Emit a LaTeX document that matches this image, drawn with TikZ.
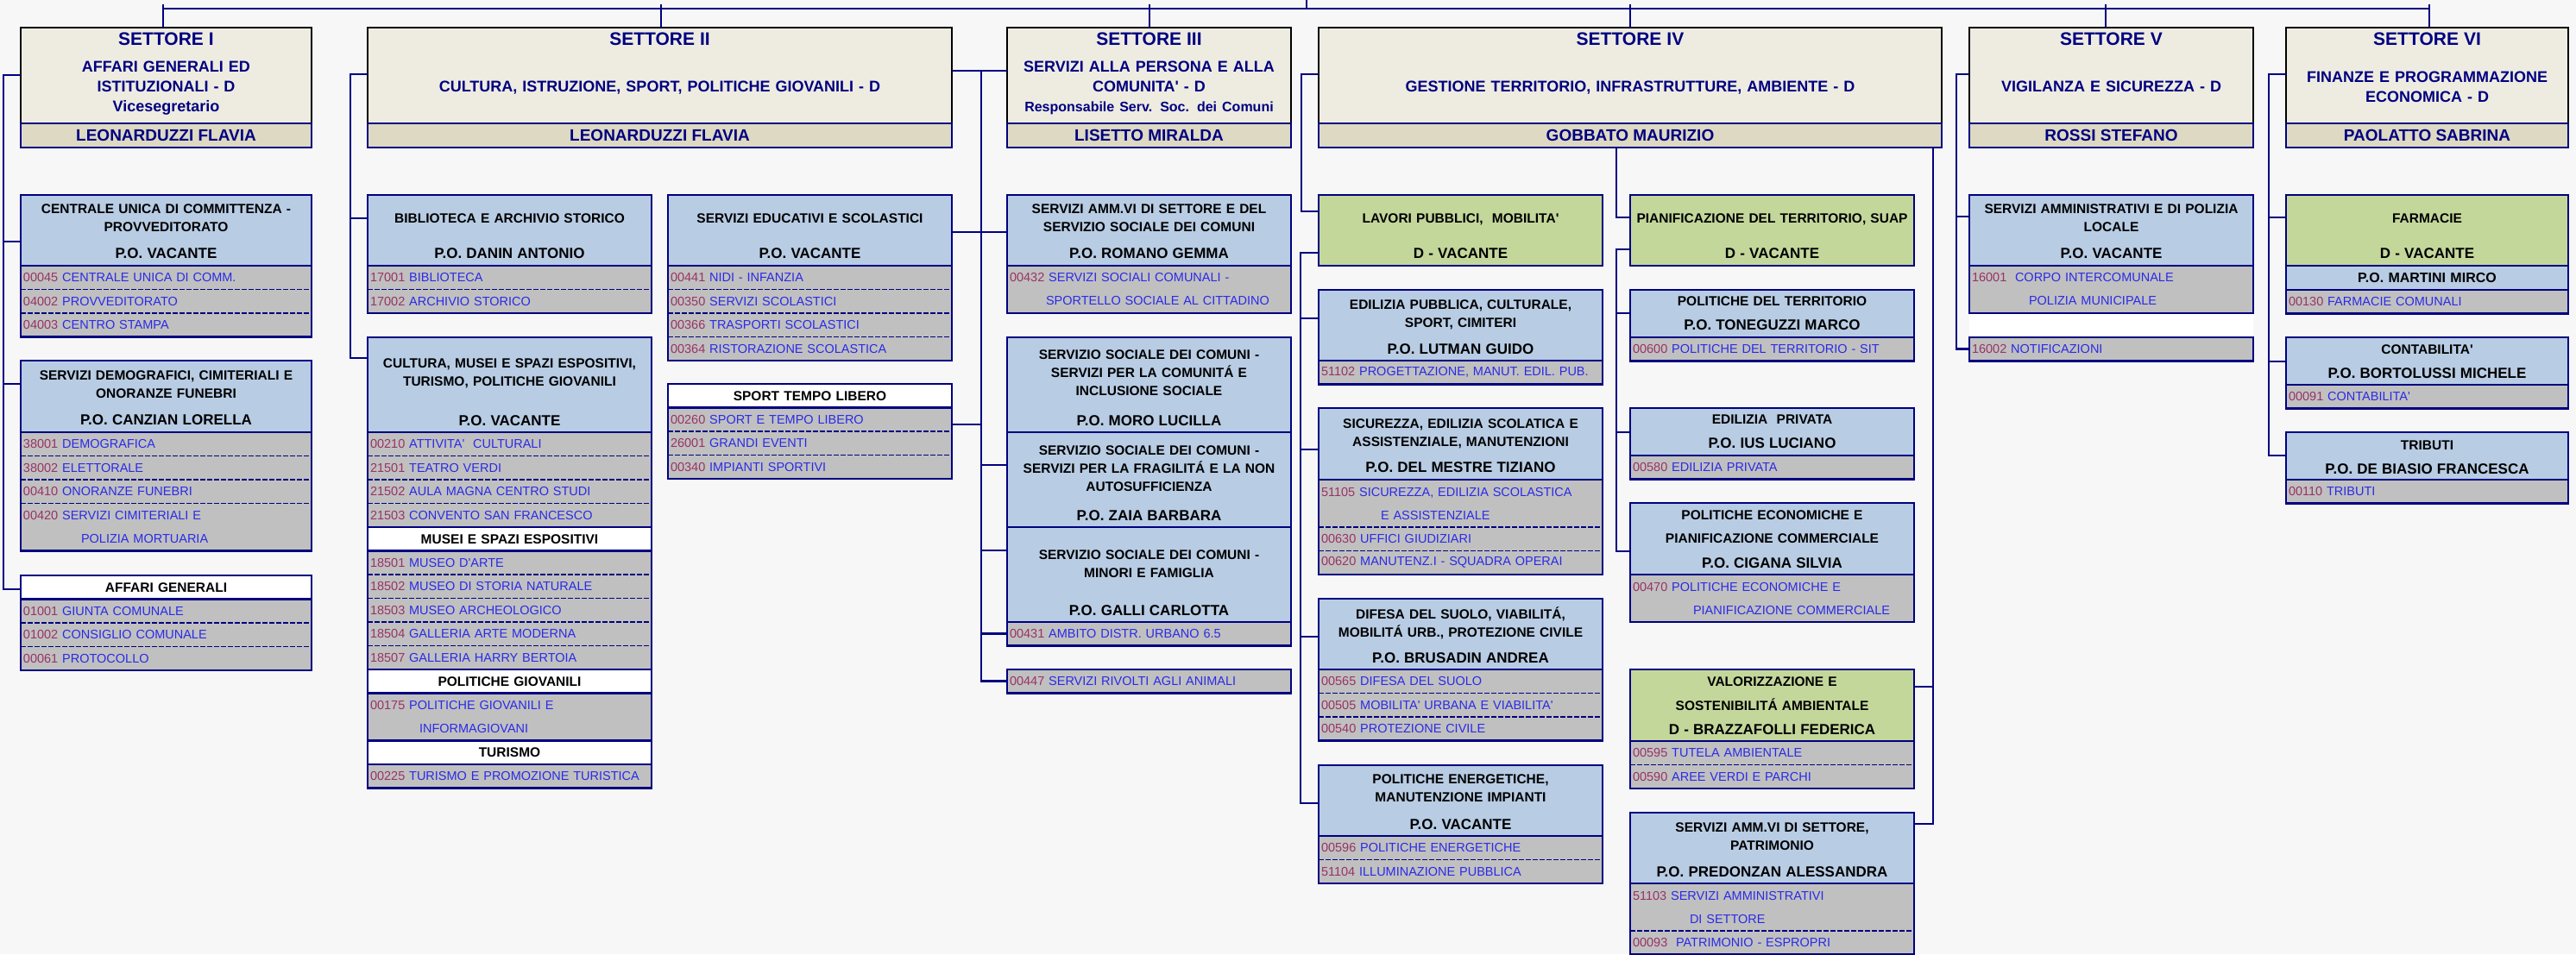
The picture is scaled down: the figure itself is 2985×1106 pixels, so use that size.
\documentclass[tikz,border=0pt]{standalone}
\usepackage{fontspec}
\setmainfont{Liberation Sans}[Ligatures=TeXOff]
\usetikzlibrary{positioning}

\definecolor{orgnavy}{HTML}{000080}
\definecolor{bgcol}{HTML}{F7F7F7}
\definecolor{settfill}{HTML}{EEECE1}
\definecolor{namefill}{HTML}{DDD9C3}
\definecolor{headblue}{HTML}{B8CCE4}
\definecolor{headgreen}{HTML}{C4D79B}
\definecolor{rowgray}{HTML}{C0C0C0}
\definecolor{rowblue}{HTML}{2A2AE8}
\definecolor{codecol}{HTML}{993366}

\newcommand\fsett{\fontsize{21}{23}\selectfont}
\newcommand\fsub{\fontsize{18}{23}\selectfont}
\newcommand\fresp{\fontsize{16}{23}\selectfont}
\newcommand\fname{\fontsize{19}{22}\selectfont\bfseries}
\newcommand\fhead{\fontsize{15.5}{21}\selectfont\bfseries}
\newcommand\frow{\fontsize{14.5}{27}\selectfont}
\newcommand\poline[1]{{\fontsize{17}{21}\selectfont #1}}
\newcommand\codeno[1]{\textcolor{codecol}{#1}}
\newcommand\frameit[2]{\draw[frame] (#1.north west) rectangle (#2.south east);}
\def\boxw{329pt}

\begin{document}
\begin{tikzpicture}[x=1pt, y=-1pt,
    link/.style={draw=orgnavy, line width=2.7pt},
    frame/.style={draw=orgnavy, line width=2.5pt},
    sepline/.style={draw=orgnavy, line width=1.5pt, dash pattern=on 6pt off 2pt},
    solidline/.style={draw=orgnavy, line width=2.5pt},
    sett/.style={draw=black, fill=settfill, line width=2.5pt, minimum width=#1,
        minimum height=111pt, inner sep=0pt, outer sep=0pt, anchor=north west},
    settname/.style={draw=orgnavy, fill=namefill, line width=2.5pt, minimum width=#1,
        minimum height=28pt, inner sep=0pt, outer sep=0pt, text=orgnavy, font=\fname},
    setttext/.style={text width=#1, align=center, inner sep=0pt, text=orgnavy,
        font=\fontsize{18}{23}\selectfont\bfseries},
    boxbase/.style={draw=orgnavy, line width=2.5pt, inner sep=0pt, outer sep=0pt,
        text width=\boxw, align=center, font=\fhead},
    head/.style 2 args={boxbase, fill=headblue, text height=#1pt, text depth=#2pt, anchor=north west},
    headg/.style 2 args={boxbase, fill=headgreen, text height=#1pt, text depth=#2pt, anchor=north west},
    sub/.style={boxbase, fill=white, minimum height=27.5pt},
    rowbase/.style={fill=rowgray, inner xsep=3pt, inner ysep=0pt, outer sep=0pt,
        text width=\boxw-6pt, align=left, text=rowblue, font=\frow, minimum height=#1},
    rowbase/.default=27.5pt,
    row/.style={rowbase=#1, append after command={(\tikzlastnode.north west) edge[sepline] (\tikzlastnode.north east)}},
    row/.default=27.5pt,
    rowf/.style={rowbase=#1, append after command={(\tikzlastnode.north west) edge[solidline] (\tikzlastnode.north east)}},
    rowf/.default=27.5pt]

\useasboundingbox (0,0) rectangle (2985,1106);
\fill[bgcol] (0,0) rectangle (2985,1106);

% settori
\node[sett=337pt] (s1) at (24,32) {};
\node[settname=337pt, below=0pt of s1] (s1n) {LEONARDUZZI FLAVIA};
\node[setttext=337pt, below=6pt of s1.north] (s1t) {\fsett SETTORE I\\[8pt]\fsub AFFARI GENERALI ED\\ISTITUZIONALI - D\\Vicesegretario};

\node[sett=677pt] (s2) at (426,32) {};
\node[settname=677pt, below=0pt of s2] (s2n) {LEONARDUZZI FLAVIA};
\node[setttext=677pt, below=6pt of s2.north] (s2t) {\fsett SETTORE II\\[31pt]\fsub CULTURA, ISTRUZIONE, SPORT, POLITICHE GIOVANILI - D};

\node[sett=329pt] (s3) at (1167,32) {};
\node[settname=329pt, below=0pt of s3] (s3n) {LISETTO MIRALDA};
\node[setttext=329pt, below=6pt of s3.north] (s3t) {\fsett SETTORE III\\[8pt]\fsub SERVIZI ALLA PERSONA E ALLA\\COMUNITA' - D\\\fresp Responsabile Serv. Soc. dei Comuni};

\node[sett=722pt] (s4) at (1528,32) {};
\node[settname=722pt, below=0pt of s4] (s4n) {GOBBATO MAURIZIO};
\node[setttext=722pt, below=6pt of s4.north] (s4t) {\fsett SETTORE IV\\[31pt]\fsub GESTIONE TERRITORIO, INFRASTRUTTURE, AMBIENTE - D};

\node[sett=329pt] (s5) at (2282,32) {};
\node[settname=329pt, below=0pt of s5] (s5n) {ROSSI STEFANO};
\node[setttext=329pt, below=6pt of s5.north] (s5t) {\fsett SETTORE V\\[31pt]\fsub VIGILANZA E SICUREZZA - D};

\node[sett=327pt] (s6) at (2649,32) {};
\node[settname=327pt, below=0pt of s6] (s6n) {PAOLATTO SABRINA};
\node[setttext=327pt, below=6pt of s6.north] (s6t) {\fsett SETTORE VI\\[20pt]\fsub FINANZE E PROGRAMMAZIONE\\ECONOMICA - D};

% settore I
\begin{scope}
\def\boxw{337pt}
\node[head={21}{61}] (a1) at (24,226) {CENTRALE UNICA DI COMMITTENZA -\\PROVVEDITORATO\\[10pt]\poline{P.O. VACANTE}};
\node[rowf, below=0pt of a1] (a1r1) {\codeno{00045} CENTRALE UNICA DI COMM.};
\node[row, below=0pt of a1r1] (a1r2) {\codeno{04002} PROVVEDITORATO};
\node[row, below=0pt of a1r2] (a1r3) {\codeno{04003} CENTRO STAMPA};

\node[head={22}{61}] (a2) at (24,418) {SERVIZI DEMOGRAFICI, CIMITERIALI E\\ONORANZE FUNEBRI\\[10pt]\poline{P.O. CANZIAN LORELLA}};
\node[rowf, below=0pt of a2] (a2r1) {\codeno{38001} DEMOGRAFICA};
\node[row, below=0pt of a2r1] (a2r2) {\codeno{38002} ELETTORALE};
\node[row, below=0pt of a2r2] (a2r3) {\codeno{00410} ONORANZE FUNEBRI};
\node[row=55pt, below=0pt of a2r3] (a2r4) {\codeno{00420} SERVIZI CIMITERIALI E\\\hspace*{67pt}POLIZIA MORTUARIA};

\node[sub, anchor=north west] (a3) at (24,667) {AFFARI GENERALI};
\node[rowf, below=0pt of a3] (a3r1) {\codeno{01001} GIUNTA COMUNALE};
\node[row, below=0pt of a3r1] (a3r2) {\codeno{01002} CONSIGLIO COMUNALE};
\node[row, below=0pt of a3r2] (a3r3) {\codeno{00061} PROTOCOLLO};
\frameit{a1}{a1r3}
\frameit{a2}{a2r4}
\frameit{a3}{a3r3}
\end{scope}

% settore II
\node[head={32}{50}] (b1) at (426,226) {BIBLIOTECA E ARCHIVIO STORICO\\[20pt]\poline{P.O. DANIN ANTONIO}};
\node[rowf, below=0pt of b1] (b1r1) {\codeno{17001} BIBLIOTECA};
\node[row, below=0pt of b1r1] (b1r2) {\codeno{17002} ARCHIVIO STORICO};

\node[head={35}{75}] (b2) at (426,391) {CULTURA, MUSEI E SPAZI ESPOSITIVI,\\TURISMO, POLITICHE GIOVANILI\\[25pt]\poline{P.O. VACANTE}};
\node[rowf, below=0pt of b2] (b2r1) {\codeno{00210} ATTIVITA'\ \ CULTURALI};
\node[row, below=0pt of b2r1] (b2r2) {\codeno{21501} TEATRO VERDI};
\node[row, below=0pt of b2r2] (b2r3) {\codeno{21502} AULA MAGNA CENTRO STUDI};
\node[row, below=0pt of b2r3] (b2r4) {\codeno{21503} CONVENTO SAN FRANCESCO};
\node[sub, below=0pt of b2r4] (b2m) {MUSEI E SPAZI ESPOSITIVI};
\node[rowf, below=0pt of b2m] (b2r5) {\codeno{18501} MUSEO D'ARTE};
\node[row, below=0pt of b2r5] (b2r6) {\codeno{18502} MUSEO DI STORIA NATURALE};
\node[row, below=0pt of b2r6] (b2r7) {\codeno{18503} MUSEO ARCHEOLOGICO};
\node[row, below=0pt of b2r7] (b2r8) {\codeno{18504} GALLERIA ARTE MODERNA};
\node[row, below=0pt of b2r8] (b2r9) {\codeno{18507} GALLERIA HARRY BERTOIA};
\node[sub, below=0pt of b2r9] (b2p) {POLITICHE GIOVANILI};
\node[rowf=55pt, below=0pt of b2p] (b2r10) {\codeno{00175} POLITICHE GIOVANILI E\\\hspace*{57pt}INFORMAGIOVANI};
\node[sub, below=0pt of b2r10] (b2t) {TURISMO};
\node[rowf, below=0pt of b2t] (b2r11) {\codeno{00225} TURISMO E PROMOZIONE TURISTICA};

\node[head={32}{50}] (b3) at (774,226) {SERVIZI EDUCATIVI E SCOLASTICI\\[20pt]\poline{P.O. VACANTE}};
\node[rowf, below=0pt of b3] (b3r1) {\codeno{00441} NIDI - INFANZIA};
\node[row, below=0pt of b3r1] (b3r2) {\codeno{00350} SERVIZI SCOLASTICI};
\node[row, below=0pt of b3r2] (b3r3) {\codeno{00366} TRASPORTI SCOLASTICI};
\node[row, below=0pt of b3r3] (b3r4) {\codeno{00364} RISTORAZIONE SCOLASTICA};

\node[sub, anchor=north west] (b4) at (774,445) {SPORT TEMPO LIBERO};
\node[rowf, below=0pt of b4] (b4r1) {\codeno{00260} SPORT E TEMPO LIBERO};
\node[row, below=0pt of b4r1] (b4r2) {\codeno{26001} GRANDI EVENTI};
\node[row, below=0pt of b4r2] (b4r3) {\codeno{00340} IMPIANTI SPORTIVI};
\frameit{b1}{b1r2}
\frameit{b2}{b2r11}
\frameit{b3}{b3r4}
\frameit{b4}{b4r3}

% settore III
\node[head={21}{61}] (c1) at (1167,226) {SERVIZI AMM.VI DI SETTORE E DEL\\SERVIZIO SOCIALE DEI COMUNI\\[10pt]\poline{P.O. ROMANO GEMMA}};
\node[rowf=55pt, below=0pt of c1] (c1r1) {\codeno{00432} SERVIZI SOCIALI COMUNALI -\\\hspace*{42pt}SPORTELLO SOCIALE AL CITTADINO};

\node[head={25}{85}] (c2) at (1167,391) {SERVIZIO SOCIALE DEI COMUNI -\\SERVIZI PER LA COMUNITÁ E\\INCLUSIONE SOCIALE\\[14pt]\poline{P.O. MORO LUCILLA}};
\node[head={26}{84}, below=0pt of c2] (c3) {SERVIZIO SOCIALE DEI COMUNI -\\SERVIZI PER LA FRAGILITÁ E LA NON\\AUTOSUFFICIENZA\\[13pt]\poline{P.O. ZAIA BARBARA}};
\node[head={37}{73}, below=0pt of c3] (c4) {SERVIZIO SOCIALE DEI COMUNI -\\MINORI E FAMIGLIA\\[23pt]\poline{P.O. GALLI CARLOTTA}};
\node[rowf, below=0pt of c4] (c4r1) {\codeno{00431} AMBITO DISTR. URBANO 6.5};

\node[rowbase, anchor=north west] (c5) at (1167,776) {\codeno{00447} SERVIZI RIVOLTI AGLI ANIMALI};
\frameit{c1}{c1r1}
\frameit{c2}{c4r1}
\frameit{c5}{c5}

% settore IV
\node[headg={32}{50}] (d1) at (1528,226) {LAVORI PUBBLICI,\ \ MOBILITA'\\[20pt]\poline{D - VACANTE}};

\node[head={22}{60}] (d2) at (1528,336) {EDILIZIA PUBBLICA, CULTURALE,\\SPORT, CIMITERI\\[10pt]\poline{P.O. LUTMAN GUIDO}};
\node[rowf, below=0pt of d2] (d2r1) {\codeno{51102} PROGETTAZIONE, MANUT. EDIL. PUB.};

\node[head={23}{60}] (d3) at (1528,473) {SICUREZZA, EDILIZIA SCOLATICA E\\ASSISTENZIALE, MANUTENZIONI\\[9pt]\poline{P.O. DEL MESTRE TIZIANO}};
\node[rowf=55pt, below=0pt of d3] (d3r1) {\codeno{51105} SICUREZZA, EDILIZIA SCOLASTICA\\\hspace*{69pt}E ASSISTENZIALE};
\node[row, below=0pt of d3r1] (d3r2) {\codeno{00630} UFFICI GIUDIZIARI};
\node[row, below=0pt of d3r2] (d3r3) {\codeno{00620} MANUTENZ.I - SQUADRA OPERAI};

\node[head={23}{59}] (d4) at (1528,694) {DIFESA DEL SUOLO, VIABILITÁ,\\MOBILITÁ URB., PROTEZIONE CIVILE\\[9pt]\poline{P.O. BRUSADIN ANDREA}};
\node[rowf, below=0pt of d4] (d4r1) {\codeno{00565} DIFESA DEL SUOLO};
\node[row, below=0pt of d4r1] (d4r2) {\codeno{00505} MOBILITA' URBANA E VIABILITA'};
\node[row, below=0pt of d4r2] (d4r3) {\codeno{00540} PROTEZIONE CIVILE};

\node[head={21}{61}] (d5) at (1528,887) {POLITICHE ENERGETICHE,\\MANUTENZIONE IMPIANTI\\[11pt]\poline{P.O. VACANTE}};
\node[rowf, below=0pt of d5] (d5r1) {\codeno{00596} POLITICHE ENERGETICHE};
\node[row, below=0pt of d5r1] (d5r2) {\codeno{51104} ILLUMINAZIONE PUBBLICA};

\node[headg={32}{50}] (e1) at (1889,226) {PIANIFICAZIONE DEL TERRITORIO, SUAP\\[20pt]\poline{D - VACANTE}};

\node[head={18}{37}] (e2) at (1889,336) {POLITICHE DEL TERRITORIO\\[7pt]\poline{P.O. TONEGUZZI MARCO}};
\node[rowf, below=0pt of e2] (e2r1) {\codeno{00600} POLITICHE DEL TERRITORIO - SIT};

\node[head={18}{37}] (e3) at (1889,473) {EDILIZIA\ \ PRIVATA\\[7pt]\poline{P.O. IUS LUCIANO}};
\node[rowf, below=0pt of e3] (e3r1) {\codeno{00580} EDILIZIA PRIVATA};

\node[head={19}{64}] (e4) at (1889,583) {POLITICHE ECONOMICHE E\\[6pt]PIANIFICAZIONE COMMERCIALE\\[8pt]\poline{P.O. CIGANA SILVIA}};
\node[rowf=55pt, below=0pt of e4] (e4r1) {\codeno{00470} POLITICHE ECONOMICHE E\\\hspace*{70pt}PIANIFICAZIONE COMMERCIALE};

\node[headg={19}{64}] (e5) at (1889,776) {VALORIZZAZIONE E\\[7pt]SOSTENIBILITÁ AMBIENTALE\\[7pt]\poline{D - BRAZZAFOLLI FEDERICA}};
\node[rowf, below=0pt of e5] (e5r1) {\codeno{00595} TUTELA AMBIENTALE};
\node[row, below=0pt of e5r1] (e5r2) {\codeno{00590} AREE VERDI E PARCHI};

\node[head={22}{60}] (e6) at (1889,942) {SERVIZI AMM.VI DI SETTORE,\\PATRIMONIO\\[10pt]\poline{P.O. PREDONZAN ALESSANDRA}};
\node[rowf=55pt, below=0pt of e6] (e6r1) {\codeno{51103} SERVIZI AMMINISTRATIVI\\\hspace*{66pt}DI SETTORE};
\node[row, below=0pt of e6r1] (e6r2) {\codeno{00093}\ \ PATRIMONIO - ESPROPRI};
\frameit{d2}{d2r1}
\frameit{d3}{d3r3}
\frameit{d4}{d4r3}
\frameit{d5}{d5r2}
\frameit{e2}{e2r1}
\frameit{e3}{e3r1}
\frameit{e4}{e4r1}
\frameit{e5}{e5r2}
\frameit{e6}{e6r2}

% settore V
\node[head={21}{61}] (f1) at (2282,226) {SERVIZI AMMINISTRATIVI E DI POLIZIA\\LOCALE\\[10pt]\poline{P.O. VACANTE}};
\node[rowf=55pt, below=0pt of f1] (f1r1) {\codeno{16001}\ \ CORPO INTERCOMUNALE\\\hspace*{66pt}POLIZIA MUNICIPALE};
\node[rowbase, anchor=north west] (f2) at (2282,391) {\codeno{16002} NOTIFICAZIONI};
\fill[white] (f1r1.south west) rectangle (f2.north east);
\frameit{f1}{f1r1}
\frameit{f2}{f2}

% settore VI
\begin{scope}
\def\boxw{327pt}
\node[headg={32}{50}] (g1) at (2649,226) {FARMACIE\\[20pt]\poline{D - VACANTE}};
\node[sub, fill=headblue, minimum height=28pt, font=\fontsize{16}{21}\selectfont\bfseries, below=0pt of g1] (g1p) {P.O. MARTINI MIRCO};
\node[rowf, below=0pt of g1p] (g1r1) {\codeno{00130} FARMACIE COMUNALI};

\node[head={19}{36}] (g2) at (2649,391) {CONTABILITA'\\[7pt]\poline{P.O. BORTOLUSSI MICHELE}};
\node[rowf, below=0pt of g2] (g2r1) {\codeno{00091} CONTABILITA'};

\node[head={20}{35}] (g3) at (2649,501) {TRIBUTI\\[7pt]\poline{P.O. DE BIASIO FRANCESCA}};
\node[rowf, below=0pt of g3] (g3r1) {\codeno{00110} TRIBUTI};
\frameit{g1}{g1r1}
\frameit{g2}{g2r1}
\frameit{g3}{g3r1}
\end{scope}

% collegamenti
\coordinate (up) at (1514,0);
\draw[link] (up) -- ++(0,10);
\draw[link] ([xshift=-3.5pt,yshift=22pt]s1.north) -- ([xshift=2.5pt,yshift=22pt]s6.north);
\foreach \sn/\dx in {s1/-3.5pt,s2/1.5pt,s3/0pt,s4/0pt,s5/-6.5pt,s6/2.5pt}
  \draw[link, line width=2pt] ([xshift=\dx,yshift=27pt]\sn.north) -- ([xshift=\dx]\sn.north);

\draw[link] ([yshift=-55pt]s1.north west) -- ++(-20,0) |- ([yshift=-16pt]a3.north west);
\draw[link] ([yshift=-54pt]a1.north west) -- ++(-20,0);
\draw[link] ([yshift=-27pt]a2.north west) -- ++(-20,0);

\draw[link] ([yshift=-54pt]s2.north west) -- ++(-20,0) |- ([yshift=-24pt]b2.north west);
\draw[link] ([yshift=-27pt]b1.north west) -- ++(-20,0);

\draw[link] ([yshift=-50pt]s2.north east) -- ([yshift=-50pt]s3.north west);
\draw[link] ([yshift=-43pt]b3.north east) -- ([yshift=-43pt]c1.north west);
\draw[link] ([xshift=34pt,yshift=-50pt]s2.north east) |- (c5.west);
\draw[link] ([yshift=-47pt]b4.north east) -- ++(34,0);
\draw[link] ([yshift=-38pt]c3.north west) -- ++(-30,0);
\draw[link] ([yshift=-27pt]c4.north west) -- ++(-30,0);
\draw[link] (c4r1.west) -- ++(-30,0);

\draw[link] ([yshift=-54pt]s4.north west) -- ++(-20,0) |- ([yshift=-19pt]d1.north west);
\draw[link] ([yshift=-67pt]d1.north west) -- ++(-21,0) |- ([yshift=-44pt]d5.north west);
\foreach \nd/\dy in {d2/-33pt,d3/-48pt,d4/-44pt}
  \draw[link] ([yshift=\dy]\nd.north west) -- ++(-21,0);
\draw[link] ([xshift=-16pt]s4n.south) |- ([yshift=-26pt]e1.north west);
\draw[link] ([yshift=-63pt]e1.north west) -- ++(-16,0) |- ([yshift=-56pt]e4.north west);
\foreach \nd/\dy in {e2/-27pt,e3/-28pt}
  \draw[link] ([yshift=\dy]\nd.north west) -- ++(-16,0);
\draw[link] ([xshift=-10pt]s4n.south east) |- ([yshift=-13pt]e6.north east);
\draw[link] ([yshift=-20pt]e5.north east) -- ++(22,0);

\draw[link] ([yshift=-54pt]s5.north west) -- ++(-15,0) |- (f2.west);
\draw[link] ([yshift=-25pt]f1.north west) -- ++(-15,0);

\draw[link] ([yshift=-54pt]s6.north west) -- ++(-20,0) |- ([yshift=-27pt]g3.north west);
\draw[link] ([yshift=-26pt]g1.north west) -- ++(-20,0);
\draw[link] ([yshift=-28pt]g2.north west) -- ++(-20,0);
\end{tikzpicture}
\end{document}
